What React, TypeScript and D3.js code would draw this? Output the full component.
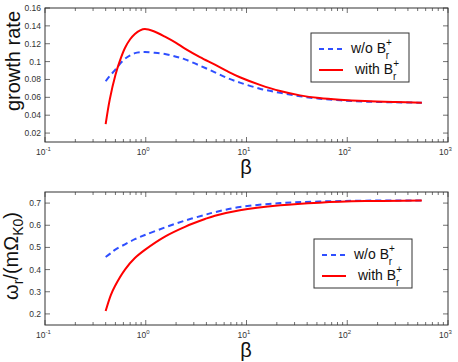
import React from 'react';
import * as d3 from 'd3';

// panel 1: growth rate vs beta
const betaGrowth = [0.4, 0.44, 0.5, 0.55, 0.62, 0.7, 0.78, 0.88, 0.98, 1.2, 1.55, 2, 2.45, 3.45, 4.86, 6.5, 8.6, 13.6, 21.6, 34, 53, 85, 150, 300, 550];
const growthWithout = [0.078, 0.084, 0.091, 0.097, 0.103, 0.107, 0.1095, 0.1105, 0.1107, 0.11, 0.1085, 0.1055, 0.1025, 0.0955, 0.088, 0.0815, 0.0765, 0.0697, 0.065, 0.0612, 0.0585, 0.0567, 0.0552, 0.0544, 0.054];
const growthWith = [0.03, 0.058, 0.085, 0.1, 0.115, 0.125, 0.131, 0.135, 0.1365, 0.134, 0.128, 0.121, 0.1145, 0.105, 0.0965, 0.089, 0.0825, 0.074, 0.067, 0.0622, 0.0592, 0.0573, 0.0558, 0.0547, 0.054];

// panel 2: real frequency vs beta
const betaFreq = [0.4, 0.45, 0.494, 0.622, 0.78, 0.98, 1.55, 2.45, 3.87, 4.86, 8.6, 21.6, 53, 150, 550];
const freqWithout = [0.457, 0.474, 0.489, 0.514, 0.537, 0.556, 0.59, 0.621, 0.647, 0.659, 0.682, 0.7, 0.707, 0.711, 0.712];
const freqWith = [0.213, 0.285, 0.325, 0.4, 0.452, 0.489, 0.549, 0.593, 0.628, 0.643, 0.668, 0.69, 0.702, 0.709, 0.712];

const growthTicks = [0.02, 0.04, 0.06, 0.08, 0.1, 0.12, 0.14, 0.16];
const freqTicks = [0.2, 0.3, 0.4, 0.5, 0.6, 0.7];
const decadeExps = [-1, 0, 1, 2, 3];
const legendLabels = ['w/o B', 'with B'];

const BLUE = '#2f4fff';
const RED = '#ff0000';
const AXIS = '#333';
const FONT = 'Liberation Sans, Arial, Helvetica, sans-serif';

const x = d3.scaleLog().domain([0.1, 1000]).range([45, 448]);

type PanelProps = {
  top: number;
  bottom: number;
  yDomain: [number, number];
  yTicks: number[];
  beta: number[];
  without: number[];
  withB: number[];
  legendX: number;
  legendY: number;
  ylabel: React.ReactNode;
};

const minorTicks: number[] = [];
for (let e = -1; e < 3; e++) {
  for (let m = 2; m <= 9; m++) minorTicks.push(m * Math.pow(10, e));
}

function Panel({ top, bottom, yDomain, yTicks, beta, without, withB, legendX, legendY, ylabel }: PanelProps) {
  const y = d3.scaleLinear().domain(yDomain).range([bottom, top]);
  const [x0, x1] = x.range();
  const line = d3
    .line<number>()
    .x((_, i) => x(beta[i]))
    .y((d) => y(d))
    .curve(d3.curveCatmullRom.alpha(0.5));

  return (
    <g>
      {/* minor x ticks */}
      {minorTicks.map((t) => (
        <g key={'m' + t} stroke={AXIS} strokeWidth={0.7}>
          <line x1={x(t)} x2={x(t)} y1={bottom} y2={bottom - 3} />
          <line x1={x(t)} x2={x(t)} y1={top} y2={top + 3} />
        </g>
      ))}
      {/* major x ticks + labels */}
      {decadeExps.map((e) => {
        const px = x(Math.pow(10, e));
        return (
          <g key={'d' + e}>
            <line x1={px} x2={px} y1={bottom} y2={bottom - 5} stroke={AXIS} strokeWidth={0.7} />
            <line x1={px} x2={px} y1={top} y2={top + 5} stroke={AXIS} strokeWidth={0.7} />
            <text x={px - 9} y={bottom + 13} fontSize={8.5} fill="#333" fontFamily={FONT}>
              10
              <tspan dy={-4} fontSize={6}>{e < 0 ? '-' + Math.abs(e) : String(e)}</tspan>
            </text>
          </g>
        );
      })}
      {/* y ticks + labels */}
      {yTicks.map((t) => (
        <g key={'y' + t}>
          <line x1={x0} x2={x0 + 5} y1={y(t)} y2={y(t)} stroke={AXIS} strokeWidth={0.7} />
          <line x1={x1} x2={x1 - 5} y1={y(t)} y2={y(t)} stroke={AXIS} strokeWidth={0.7} />
          <text x={41} y={y(t)} dy="0.35em" textAnchor="end" fontSize={8.5} fill="#333" fontFamily={FONT}>
            {String(+t.toFixed(2))}
          </text>
        </g>
      ))}
      <rect x={x0} y={top} width={x1 - x0} height={bottom - top} fill="none" stroke={AXIS} strokeWidth={1} />

      <path d={line(without) ?? ''} fill="none" stroke={BLUE} strokeWidth={2} strokeDasharray="6,4" />
      <path d={line(withB) ?? ''} fill="none" stroke={RED} strokeWidth={2} />

      {/* x label */}
      <text x={246} y={bottom + 32} textAnchor="middle" fontSize={20} fill="#111" fontFamily={FONT}>
        β
      </text>
      {ylabel}

      {/* legend */}
      <g transform={`translate(${legendX},${legendY})`} fontFamily={FONT} fill="#111">
        <rect x={0} y={0} width={98} height={49} fill="#fff" stroke={AXIS} strokeWidth={1} />
        <line x1={8} x2={32} y1={16} y2={16} stroke={BLUE} strokeWidth={2} strokeDasharray="5,4" />
        <line x1={8} x2={32} y1={37} y2={37} stroke={RED} strokeWidth={2} />
        {legendLabels.map((lab, i) => (
          <text key={lab} x={i === 0 ? 40 : 44} y={i === 0 ? 20 : 41} fontSize={14}>
            {lab}
            <tspan dy={-7} fontSize={10}>+</tspan>
            <tspan dx={-6} dy={13} fontSize={10}>r</tspan>
          </text>
        ))}
      </g>
    </g>
  );
}

export default function App() {
  return (
    <svg width={458} height={362} style={{ position: 'absolute', left: 0, top: 0, background: '#fff' }}>
      <Panel
        top={8}
        bottom={142}
        yDomain={[0.01, 0.16]}
        yTicks={growthTicks}
        beta={betaGrowth}
        without={growthWithout}
        withB={growthWith}
        legendX={311}
        legendY={33}
        ylabel={
          <text transform="translate(20,61) rotate(-90)" textAnchor="middle" fontSize={20} fill="#111" fontFamily={FONT}>
            growth rate
          </text>
        }
      />
      <Panel
        top={192}
        bottom={325}
        yDomain={[0.15, 0.75]}
        yTicks={freqTicks}
        beta={betaFreq}
        without={freqWithout}
        withB={freqWith}
        legendX={314}
        legendY={239}
        ylabel={
          <text transform="translate(18,256) rotate(-90)" textAnchor="middle" fontSize={20} fill="#111" fontFamily={FONT}>
            ω
            <tspan dy={5} fontSize={14}>r</tspan>
            <tspan dy={-5}>/(mΩ</tspan>
            <tspan dy={5} fontSize={14}>K0</tspan>
            <tspan dy={-5}>)</tspan>
          </text>
        }
      />
    </svg>
  );
}
